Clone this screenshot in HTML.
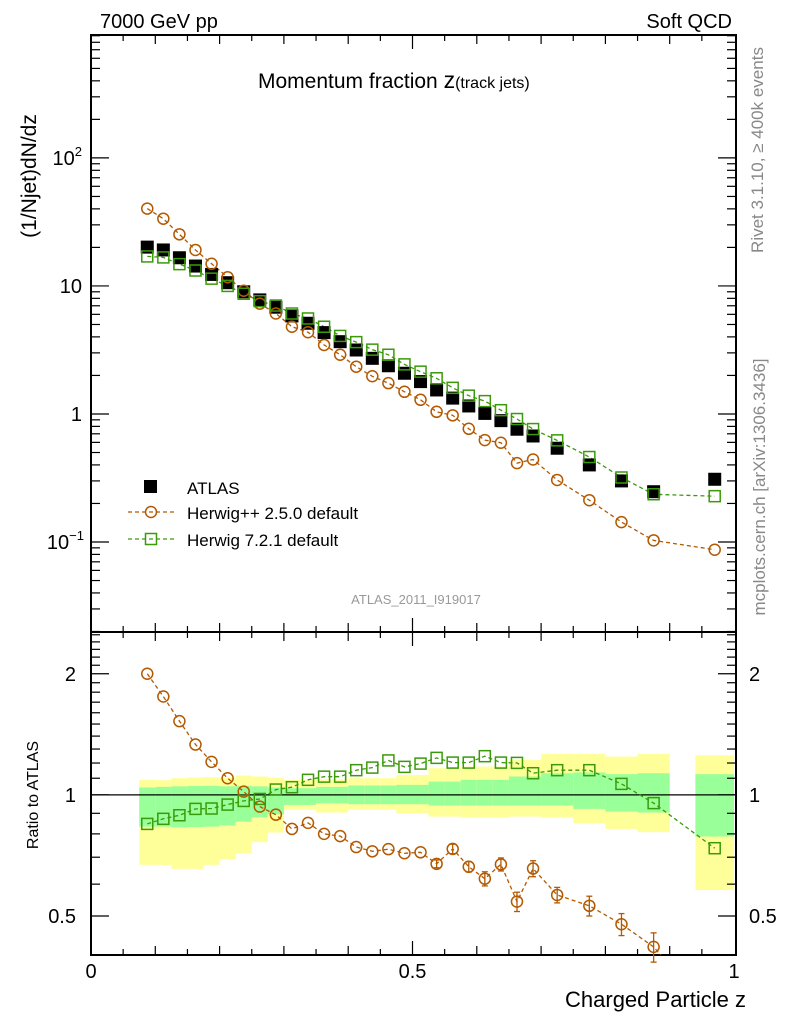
<!DOCTYPE html>
<html><head><meta charset="utf-8"><style>
html,body{margin:0;padding:0;background:#fff;}
svg{display:block;font-family:"Liberation Sans",Arial,sans-serif;}
</style></head><body>
<svg id="chart" width="786" height="1024" viewBox="0 0 786 1024">
<g id="bands"></g>
<g id="grid"></g>
<g id="series"></g>
<text x="100" y="28" font-size="20">7000 GeV pp</text>
<text x="732" y="28" font-size="20" text-anchor="end">Soft QCD</text>
<text x="258" y="88" font-size="21">Momentum fraction <tspan font-size="23">z</tspan><tspan font-size="16">(track jets)</tspan></text>
<text transform="translate(36,176) rotate(-90)" font-size="21" text-anchor="middle">(1/Njet)dN/dz</text>
<text transform="translate(38,795) rotate(-90)" font-size="16" text-anchor="middle">Ratio to ATLAS</text>
<text x="746" y="1007" font-size="22" text-anchor="end">Charged Particle z</text>
<text transform="translate(763,150) rotate(-90)" font-size="17" fill="#888" text-anchor="middle">Rivet 3.1.10, ≥ 400k events</text>
<text transform="translate(765,487) rotate(-90)" font-size="17" fill="#888" text-anchor="middle">mcplots.cern.ch [arXiv:1306.3436]</text>
<text x="416" y="604" font-size="13" fill="#999" text-anchor="middle">ATLAS_2011_I919017</text>
<g>
<rect x="144" y="480" width="13" height="13" fill="#000"/>
<text x="187" y="494" font-size="17">ATLAS</text>
<line x1="128" y1="512" x2="174" y2="512" stroke="#b35900" stroke-width="1.3" stroke-dasharray="4,3"/>
<circle cx="151" cy="512" r="5.5" fill="none" stroke="#b35900" stroke-width="1.5"/>
<text x="187" y="519" font-size="17">Herwig++ 2.5.0 default</text>
<line x1="128" y1="539" x2="174" y2="539" stroke="#3a9a0a" stroke-width="1.3" stroke-dasharray="4,3"/>
<rect x="145.5" y="533.5" width="11" height="11" fill="none" stroke="#3a9a0a" stroke-width="1.5"/>
<text x="187" y="546" font-size="17">Herwig 7.2.1 default</text>
</g>
</svg>
<script>
const zCenters=[0.0875,0.1125,0.1375,0.1625,0.1875,0.2125,0.2375,0.2625,0.2875,0.3125,0.3375,0.3625,0.3875,0.4125,0.4375,0.4625,0.4875,0.5125,0.5375,0.5625,0.5875,0.6125,0.6375,0.6625,0.6875,0.725,0.775,0.825,0.875,0.97];
const binLo=[0.075,0.1,0.125,0.15,0.175,0.2,0.225,0.25,0.275,0.3,0.325,0.35,0.375,0.4,0.425,0.45,0.475,0.5,0.525,0.55,0.575,0.6,0.625,0.65,0.675,0.7,0.75,0.8,0.85,0.94];
const binHi=[0.1,0.125,0.15,0.175,0.2,0.225,0.25,0.275,0.3,0.325,0.35,0.375,0.4,0.425,0.45,0.475,0.5,0.525,0.55,0.575,0.6,0.625,0.65,0.675,0.7,0.75,0.8,0.85,0.9,1.0];
const atlas=[20.1,19.1,16.6,14.3,12.3,10.6,9.0,7.78,6.82,5.83,5.11,4.32,3.67,3.16,2.72,2.38,2.08,1.79,1.54,1.33,1.155,1.01,0.887,0.76,0.673,0.54,0.40,0.30,0.247,0.309];
const herwigpp=[40.2,33.5,25.3,19.1,14.9,11.7,9.17,7.27,6.09,4.80,4.35,3.46,2.90,2.34,1.97,1.74,1.49,1.29,1.04,0.976,0.766,0.625,0.596,0.413,0.441,0.305,0.212,0.143,0.103,0.087];
const herwig7=[17.0,16.7,14.8,13.2,11.4,10.0,8.69,7.60,7.03,6.09,5.57,4.80,4.07,3.64,3.18,2.90,2.44,2.14,1.90,1.60,1.39,1.26,1.07,0.913,0.762,0.622,0.461,0.319,0.236,0.228];
const ratioPP=[2.0,1.756,1.525,1.334,1.208,1.10,1.019,0.935,0.893,0.823,0.852,0.80,0.79,0.742,0.724,0.733,0.716,0.72,0.674,0.734,0.663,0.619,0.672,0.543,0.656,0.564,0.53,0.477,0.419,0.28];
const ratioPPerr=[0.01,0.01,0.01,0.01,0.01,0.01,0.01,0.01,0.01,0.01,0.01,0.01,0.01,0.01,0.01,0.01,0.01,0.01,0.015,0.02,0.02,0.025,0.025,0.03,0.03,0.025,0.03,0.03,0.035,0.04];
const ratio7=[0.847,0.872,0.89,0.923,0.925,0.946,0.966,0.977,1.031,1.045,1.09,1.11,1.11,1.152,1.169,1.218,1.174,1.196,1.236,1.203,1.203,1.248,1.203,1.201,1.132,1.152,1.152,1.065,0.954,0.737];
const yelLo=[0.67,0.67,0.655,0.655,0.67,0.692,0.716,0.763,0.806,0.918,0.918,0.904,0.904,0.918,0.918,0.918,0.90,0.90,0.883,0.883,0.878,0.878,0.878,0.883,0.883,0.878,0.85,0.823,0.808,0.58];
const yelHi=[1.09,1.088,1.10,1.105,1.107,1.105,1.117,1.111,1.104,1.09,1.09,1.094,1.094,1.10,1.10,1.10,1.121,1.121,1.165,1.165,1.176,1.176,1.176,1.222,1.222,1.265,1.265,1.245,1.265,1.255];
const grnLo=[0.834,0.834,0.83,0.832,0.834,0.84,0.858,0.88,0.895,0.944,0.944,0.953,0.953,0.948,0.948,0.948,0.948,0.948,0.941,0.941,0.941,0.941,0.941,0.941,0.941,0.941,0.923,0.909,0.904,0.788];
const grnHi=[1.043,1.047,1.05,1.052,1.053,1.05,1.053,1.05,1.043,1.039,1.039,1.047,1.047,1.055,1.055,1.055,1.059,1.059,1.079,1.079,1.09,1.09,1.09,1.111,1.111,1.132,1.137,1.126,1.132,1.126];
const xTickLabels=["0","0.5","1"];
const xTickValues=[0,0.5,1];
const ratioTickValues=[0.5,1,2];
const ratioTickLabels=["0.5","1","2"];

const NS="http://www.w3.org/2000/svg";
const X0=91,X1=736,MT=35,MB=632,RT=632,RB=955;
const LMAX=2.96,LMIN=-1.703;
const RMAX=Math.log2(2.54),RMIN=Math.log2(0.4);
function xs(z){return X0+(X1-X0-2)*z;}
function ym(v){return MT+(LMAX-Math.log10(v))/(LMAX-LMIN)*(MB-MT);}
function yr(r){return RT+(RMAX-Math.log2(r))/(RMAX-RMIN)*(RB-RT);}
function mk(tag,attrs,parent){const e=document.createElementNS(NS,tag);for(const k in attrs)e.setAttribute(k,attrs[k]);parent.appendChild(e);return e;}
const bands=document.getElementById('bands'),grid=document.getElementById('grid'),series=document.getElementById('series');

for(let i=0;i<binLo.length;i++){
  const x=xs(binLo[i]),w=xs(binHi[i])-xs(binLo[i]);
  const r1=mk('rect',{x:x,y:yr(yelHi[i]),width:w,height:yr(yelLo[i])-yr(yelHi[i]),fill:'#ffff99'},bands);
  
  
  const r2=mk('rect',{x:x,y:yr(grnHi[i]),width:w,height:yr(grnLo[i])-yr(grnHi[i]),fill:'#99ff99'},bands);
  
  
}
const f1=mk('rect',{x:X0,y:MT,width:X1-X0,height:MB-MT,fill:'none',stroke:'#000','stroke-width':2},grid);


const f2=mk('rect',{x:X0,y:RT,width:X1-X0,height:RB-RT,fill:'none',stroke:'#000','stroke-width':2},grid);


const one=mk('line',{x1:X0,x2:X1,y1:yr(1),y2:yr(1),stroke:'#000','stroke-width':1.3},grid);


for(let k=1;k<20;k++){
  const z=k*0.05,x=xs(z);const len=(k%10==0)?14:(k%2==0?9:6);
  [[MT,1],[MB,-1],[RT,1],[RB,-1]].forEach(([y,d])=>{mk('line',{x1:x,x2:x,y1:y,y2:y+d*len,stroke:'#000','stroke-width':1.2},grid);});
}
xTickValues.forEach((v,i)=>{const t=mk('text',{x:xs(v),y:978,'font-size':20,'text-anchor':'middle'},grid);t.textContent=xTickLabels[i];
  
  });
for(let e=-2;e<=2;e++){for(let m=1;m<10;m++){const v=m*Math.pow(10,e);const L=Math.log10(v);if(L>LMAX||L<LMIN)continue;const y=ym(v);const len=m==1?18:9;
  mk('line',{x1:X0,x2:X0+len,y1:y,y2:y,stroke:'#000','stroke-width':1.2},grid);mk('line',{x1:X1,x2:X1-len,y1:y,y2:y,stroke:'#000','stroke-width':1.2},grid);}}
[[2,"10","2"],[1,"10",""],[0,"1",""],[-1,"10","−1"]].forEach(([e,b,s])=>{const t=mk('text',{x:82,y:ym(Math.pow(10,e))+7,'font-size':20,'text-anchor':'end'},grid);
  if(s){t.innerHTML=b+'<tspan font-size="13" dy="-9">'+s+'</tspan>';t.setAttribute('x',s=="2"?82:84);}else t.textContent=b;
  
  });
for(let k=4;k<=25;k++){const r=k/10;const y=yr(r);const maj=(k==5||k==10||k==20);const len=maj?18:9;
  mk('line',{x1:X0,x2:X0+len,y1:y,y2:y,stroke:'#000','stroke-width':1.2},grid);mk('line',{x1:X1,x2:X1-len,y1:y,y2:y,stroke:'#000','stroke-width':1.2},grid);}
ratioTickValues.forEach((v,i)=>{
  const t=mk('text',{x:76,y:yr(v)+7,'font-size':20,'text-anchor':'end'},grid);t.textContent=ratioTickLabels[i];
  
  
  const t2=mk('text',{x:749,y:yr(v)+7,'font-size':20},grid);t2.textContent=ratioTickLabels[i];
  
  });

const OR='#b35900',GR='#3a9a0a';
function path(vals,yf,col,name,clip){
  let d='';vals.forEach((v,i)=>{d+=(i?'L':'M')+xs(zCenters[i]).toFixed(1)+','+yf(v).toFixed(1);});
  const p=mk('path',{d:d,fill:'none',stroke:col,'stroke-width':1.3,'stroke-dasharray':'4,3'},series);
  if(clip)p.setAttribute('clip-path','url(#rclip)');
  
  
}
const defs=mk('defs',{},document.getElementById('chart'));
const cp=mk('clipPath',{id:'rclip'},defs);mk('rect',{x:X0,y:RT,width:X1-X0,height:RB-RT},cp);
path(herwigpp,ym,OR,'herwigpp-line',false);
path(herwig7,ym,GR,'herwig7-line',false);
atlas.forEach((v,i)=>{const r=mk('rect',{x:xs(zCenters[i])-6.5,y:ym(v)-6.5,width:13,height:13,fill:'#000'},series);
  
  });
herwigpp.forEach((v,i)=>{const c=mk('circle',{cx:xs(zCenters[i]),cy:ym(v),r:5.5,fill:'none',stroke:OR,'stroke-width':1.5},series);
  
  });
herwig7.forEach((v,i)=>{const r=mk('rect',{x:xs(zCenters[i])-5.5,y:ym(v)-5.5,width:11,height:11,fill:'none',stroke:GR,'stroke-width':1.5},series);
  
  });
path(ratioPP,yr,OR,'herwigpp-ratio-line',true);
path(ratio7,yr,GR,'herwig7-ratio-line',true);
ratioPP.forEach((v,i)=>{if(v<0.41)return;const x=xs(zCenters[i]);
  const e=ratioPPerr[i];
  if(e>0.012){mk('line',{x1:x,x2:x,y1:yr(v+e),y2:yr(v-e),stroke:OR,'stroke-width':1.3},series);
    mk('line',{x1:x-3,x2:x+3,y1:yr(v+e),y2:yr(v+e),stroke:OR,'stroke-width':1.3},series);
    mk('line',{x1:x-3,x2:x+3,y1:yr(v-e),y2:yr(v-e),stroke:OR,'stroke-width':1.3},series);}
  const c=mk('circle',{cx:x,cy:yr(v),r:5.5,fill:'none',stroke:OR,'stroke-width':1.5},series);
  
  });
ratio7.forEach((v,i)=>{const r=mk('rect',{x:xs(zCenters[i])-5.5,y:yr(v)-5.5,width:11,height:11,fill:'none',stroke:GR,'stroke-width':1.5},series);
  
  });
</script>
</body></html>
